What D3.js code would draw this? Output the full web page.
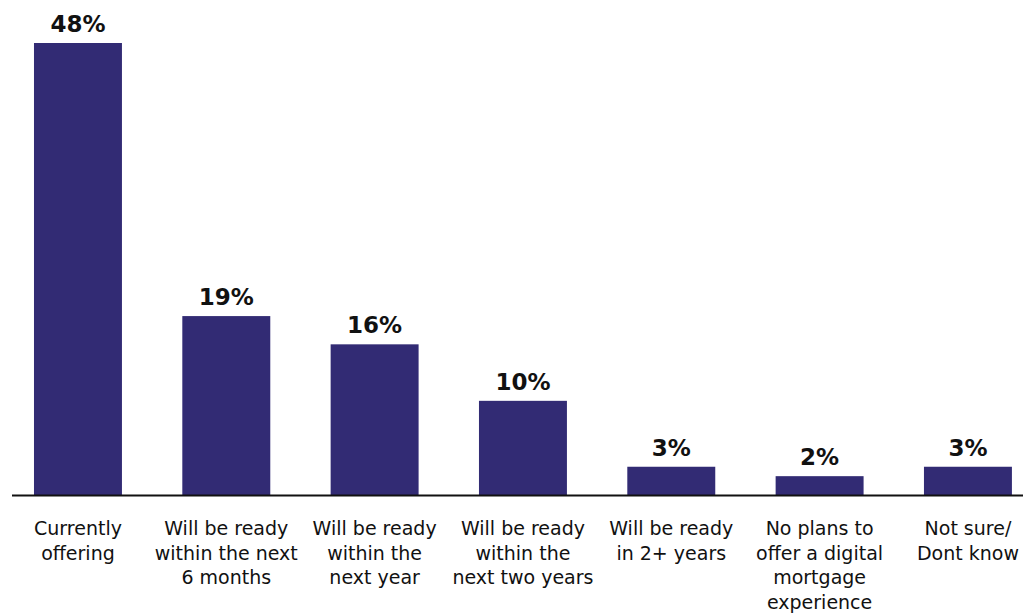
<!DOCTYPE html>
<html>
<head>
<meta charset="utf-8">
<script src="https://cdn.jsdelivr.net/npm/d3@7"></script>
<style>
  html, body { margin: 0; padding: 0; background: #fff; }
  svg { display: block; }
</style>
</head>
<body>
<svg id="chart" width="1034" height="616"></svg>
<script>
const categories = [
  "Currently offering",
  "Will be ready within the next 6 months",
  "Will be ready within the next year",
  "Will be ready within the next two years",
  "Will be ready in 2+ years",
  "No plans to offer a digital mortgage experience",
  "Not sure/ Dont know"
];
const categoryLines = [
  ["Currently", "offering"],
  ["Will be ready", "within the next", "6 months"],
  ["Will be ready", "within the", "next year"],
  ["Will be ready", "within the", "next two years"],
  ["Will be ready", "in 2+ years"],
  ["No plans to", "offer a digital", "mortgage", "experience"],
  ["Not sure/", "Dont know"]
];
const values = [48, 19, 16, 10, 3, 2, 3];
const valueLabels = ["48%", "19%", "16%", "10%", "3%", "2%", "3%"];

const svg = d3.select("#chart");
const barColor = "#322b74";
const textColor = "#111111";

const x = d3.scaleBand()
  .domain(categories)
  .range([3.8, 1042.1])
  .paddingInner(0.407)
  .paddingOuter(0.2035);

const y = d3.scaleLinear()
  .domain([0, 48])
  .range([495, 43]);

// bars
svg.append("g")
  .selectAll("rect")
  .data(categories)
  .join("rect")
  .attr("x", d => x(d))
  .attr("width", x.bandwidth())
  .attr("y", (d, i) => y(values[i]))
  .attr("height", (d, i) => y(0) - y(values[i]))
  .attr("fill", barColor);

// baseline
svg.append("line")
  .attr("x1", 12).attr("x2", 1023)
  .attr("y1", y(0) + 0.5).attr("y2", y(0) + 0.5)
  .attr("stroke", textColor)
  .attr("stroke-width", 2);

// value labels
svg.append("g")
  .selectAll("text")
  .data(categories)
  .join("text")
  .attr("x", d => x(d) + x.bandwidth() / 2)
  .attr("y", (d, i) => y(values[i]) - 11)
  .attr("text-anchor", "middle")
  .attr("font-family", "DejaVu Sans, sans-serif")
  .attr("font-weight", "bold")
  .attr("font-size", 23)
  .attr("fill", textColor)
  .text((d, i) => valueLabels[i]);

// category labels
const catG = svg.append("g")
  .selectAll("text")
  .data(categories)
  .join("text")
  .attr("x", d => x(d) + x.bandwidth() / 2)
  .attr("y", 535)
  .attr("text-anchor", "middle")
  .attr("font-family", "DejaVu Sans, sans-serif")
  .attr("font-size", 19)
  .attr("fill", textColor);

catG.each(function(d, i) {
  const t = d3.select(this);
  const cx = x(d) + x.bandwidth() / 2;
  categoryLines[i].forEach((line, j) => {
    t.append("tspan")
      .attr("x", cx)
      .attr("dy", j === 0 ? 0 : 24.7)
      .text(line);
  });
});
</script>
</body>
</html>
